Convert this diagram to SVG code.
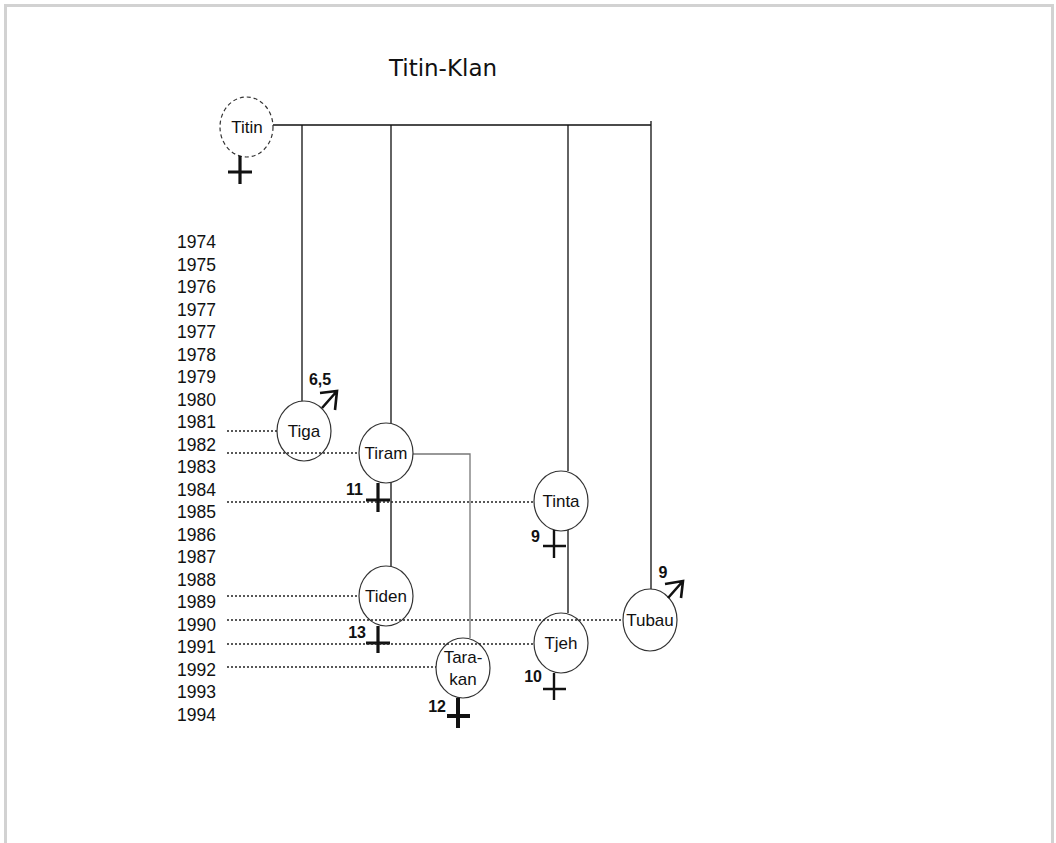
<svg xmlns="http://www.w3.org/2000/svg" width="1056" height="843" viewBox="0 0 1056 843">
<style>
.frame{fill:none;stroke:#d2d2d2;stroke-width:3}
.title{font-family:"DejaVu Sans",Verdana,sans-serif;font-size:23px;fill:#111}
.yr{font-family:"Liberation Sans",Arial,sans-serif;font-size:17.5px;fill:#111}
.lbl{font-family:"Liberation Sans",Arial,sans-serif;font-size:17px;fill:#111;text-anchor:middle}
.num{font-family:"Liberation Sans",Arial,sans-serif;font-size:16px;font-weight:bold;fill:#111}
.node{fill:#fff;stroke:#333;stroke-width:1.2}
.dash{stroke-dasharray:4,3}
.line{stroke:#111;stroke-width:1.3;fill:none}
.gray{stroke:#777;stroke-width:1.3;fill:none}
.dot{stroke:#222;stroke-width:1.5;stroke-dasharray:2,2;fill:none}
.cross{stroke:#111;stroke-width:3.2;fill:none}
.male{stroke:#111;stroke-width:2.6;fill:none;stroke-linejoin:miter}
</style>
<rect x="0" y="0" width="1056" height="843" fill="#fff"/>
<path class="frame" d="M5.5,843 V5.5 H1052.5 V843"/>
<text class="title" x="443" y="76" text-anchor="middle">Titin-Klan</text>

<g id="years">
<text class="yr" x="177" y="248">1974</text>
<text class="yr" x="177" y="270.5">1975</text>
<text class="yr" x="177" y="293">1976</text>
<text class="yr" x="177" y="315.5">1977</text>
<text class="yr" x="177" y="338">1977</text>
<text class="yr" x="177" y="360.5">1978</text>
<text class="yr" x="177" y="383">1979</text>
<text class="yr" x="177" y="405.5">1980</text>
<text class="yr" x="177" y="428">1981</text>
<text class="yr" x="177" y="450.5">1982</text>
<text class="yr" x="177" y="473">1983</text>
<text class="yr" x="177" y="495.5">1984</text>
<text class="yr" x="177" y="518">1985</text>
<text class="yr" x="177" y="540.5">1986</text>
<text class="yr" x="177" y="563">1987</text>
<text class="yr" x="177" y="585.5">1988</text>
<text class="yr" x="177" y="608">1989</text>
<text class="yr" x="177" y="630.5">1990</text>
<text class="yr" x="177" y="653">1991</text>
<text class="yr" x="177" y="675.5">1992</text>
<text class="yr" x="177" y="698">1993</text>
<text class="yr" x="177" y="720.5">1994</text>
</g>

<g id="connectors">
<path class="line" d="M273,125 H651 M651,121 V589 M302,125 V401 M391,125 V423 M391,483 V566 M568,125 V471 M568,530 V613"/>
<path class="gray" d="M413,454 H470 V638"/>
</g>

<g id="node-titin">
<ellipse class="node dash" cx="246.5" cy="127" rx="26.5" ry="30"/>
<text class="lbl" x="247" y="133">Titin</text>
<path class="cross" d="M240,156 V184 M228,172 H252"/>
</g>
<g id="node-tiga">
<ellipse class="node" cx="304" cy="431" rx="27" ry="30"/>
<text class="lbl" x="304" y="437">Tiga</text>
<path class="male" d="M322,408 L337,391 M320,393 L337,391 L335,410"/>
<text class="num" x="320" y="385" text-anchor="middle">6,5</text>
</g>
<g id="node-tiram">
<ellipse class="node" cx="386" cy="453" rx="27" ry="30"/>
<text class="lbl" x="386" y="459">Tiram</text>
<path class="cross" d="M378,483 V512 M366,500 H390"/>
<text class="num" x="363" y="495" text-anchor="end">11</text>
</g>
<g id="node-tinta">
<ellipse class="node" cx="561" cy="501" rx="27" ry="30"/>
<text class="lbl" x="561" y="507">Tinta</text>
<path class="cross" style="stroke-width:2.4" d="M554,530 V558 M543,546 H566"/>
<text class="num" x="540" y="542" text-anchor="end">9</text>
</g>
<g id="node-tiden">
<ellipse class="node" cx="386" cy="596" rx="27" ry="30"/>
<text class="lbl" x="386" y="602">Tiden</text>
<path class="cross" d="M378,626 V653 M366,643 H390"/>
<text class="num" x="366" y="638" text-anchor="end">13</text>
</g>
<g id="node-tubau">
<ellipse class="node" cx="650" cy="620" rx="27" ry="31"/>
<text class="lbl" x="650" y="626">Tubau</text>
<path class="male" d="M668,598 L683,581 M665,584 L683,581 L681,598"/>
<text class="num" x="663" y="578" text-anchor="middle">9</text>
</g>
<g id="node-tjeh">
<ellipse class="node" cx="561" cy="643" rx="27" ry="30"/>
<text class="lbl" x="561" y="649">Tjeh</text>
<path class="cross" style="stroke-width:2.4" d="M554,673 V700 M543,689 H566"/>
<text class="num" x="542" y="682" text-anchor="end">10</text>
</g>
<g id="node-tarakan">
<ellipse class="node" cx="463" cy="668" rx="27" ry="30"/>
<text class="lbl" x="463" y="663">Tara-</text>
<text class="lbl" x="463" y="685">kan</text>
<path class="cross" style="stroke-width:4" d="M458,698 V728 M447,716 H470"/>
<text class="num" x="446" y="712" text-anchor="end">12</text>
</g>

<g id="year-lines">
<path class="dot" d="M227,431 H277 M227,453 H359 M227,502 H534 M227,596 H359 M227,620 H623 M227,644 H534 M227,667 H436"/>
</g>
</svg>
